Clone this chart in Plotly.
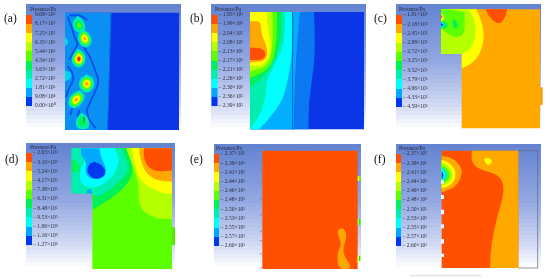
import plotly.graph_objects as go

BANDS = ["#ff4f00", "#ffa800", "#ffff00", "#b4ff00", "#5cff00", "#00f05a", "#00eeb0", "#00ffff", "#00a8ff", "#0038f0"]
RED, ORG, YEL, LIM, GRN, GR2, TEA, CYN, LBL, BLU = BANDS
DOM_BLUE = "#0a36e8"
DOM_LIGHT = "#0a90f2"

LABELS_A = ["9.08×10⁵", "8.17×10⁵", "7.25×10⁵", "6.35×10⁵", "5.44×10⁵", "4.54×10⁵", "3.63×10⁵", "2.72×10⁵", "1.81×10⁵", "9.08×10⁴", "0.00×10⁰"]
LABELS_B = ["1.95×10⁵", "1.99×10⁵", "2.04×10⁵", "2.08×10⁵", "2.13×10⁵", "2.17×10⁵", "2.21×10⁵", "2.26×10⁵", "2.30×10⁵", "2.36×10⁵", "2.39×10⁵"]
LABELS_C = ["1.91×10⁵", "2.18×10⁵", "2.45×10⁵", "2.98×10⁵", "2.72×10⁵", "3.25×10⁵", "3.52×10⁵", "3.79×10⁵", "4.06×10⁵", "4.33×10⁵", "4.59×10⁵"]
LABELS_D = ["2.03×10⁵", "3.10×10⁵", "5.24×10⁵", "4.17×10⁵", "7.38×10⁵", "6.31×10⁵", "8.48×10⁵", "9.53×10⁵", "1.06×10⁶", "1.16×10⁶", "1.27×10⁶"]
LABELS_E = ["2.37×10⁵", "2.39×10⁵", "2.41×10⁵", "2.44×10⁵", "2.46×10⁵", "2.48×10⁵", "2.50×10⁵", "2.53×10⁵", "2.55×10⁵", "2.57×10⁵", "2.60×10⁵"]
LABELS_F = LABELS_E

FONT = "Liberation Serif"
fig = go.Figure()


def smooth(pts, n=2):
    pts = list(pts)
    for _ in range(n):
        out = [pts[0]]
        for a, b in zip(pts[:-1], pts[1:]):
            out.append((0.75 * a[0] + 0.25 * b[0], 0.75 * a[1] + 0.25 * b[1]))
            out.append((0.25 * a[0] + 0.75 * b[0], 0.25 * a[1] + 0.75 * b[1]))
        out.append(pts[-1])
        pts = out
    return pts


def poly(pts, color):
    fig.add_trace(go.Scatter(x=[p[0] for p in pts], y=[p[1] for p in pts], mode="none", fill="toself",
                             fillcolor=color, hoverinfo="skip", showlegend=False))


def region(off, color, curve, corners=()):
    pts = smooth(curve) + list(corners)
    poly([(p[0] / 3 + off[0], p[1] / 3 + off[1]) for p in pts], color)


def rect(off, x0, y0, x1, y1, color):
    region(off, color, [(x0, y0), (x1, y0)], [(x1, y1), (x0, y1)])


def blob(off, outline, scales, colors):
    cx = sum(p[0] for p in outline) / len(outline)
    cy = sum(p[1] for p in outline) / len(outline)
    for s, c in zip(scales, colors):
        pts = [(cx + (p[0] - cx) * s, cy + (p[1] - cy) * s) for p in outline]
        region(off, c, pts + [pts[0]])


def strokes(off, lines, color, width):
    for ln in lines:
        pts = smooth(ln)
        fig.add_trace(go.Scatter(x=[p[0] / 3 + off[0] for p in pts], y=[p[1] / 3 + off[1] for p in pts],
                                 mode="lines", line=dict(color=color, width=width), hoverinfo="skip", showlegend=False))


def markers(off, pts, symbol, size, color="#303030"):
    fig.add_trace(go.Scatter(x=[p[0] / 3 + off[0] for p in pts], y=[p[1] / 3 + off[1] for p in pts], mode="markers",
                             marker=dict(symbol=symbol, size=size, color="rgba(0,0,0,0)", line=dict(color=color, width=0.7)),
                             hoverinfo="skip", showlegend=False))


def background(x0, x1, y0, y1):
    n = 32
    edges = [y0 + (y1 - y0) * i / n for i in range(n + 1)]
    fig.add_trace(go.Heatmap(x=[x0, x1], y=edges, z=[[i / (n - 1)] for i in range(n)],
                             colorscale=[[0, "#6484d2"], [.45, "#93a8e2"], [.8, "#d0d9f3"], [1, "#ffffff"]],
                             zmin=0, zmax=1, showscale=False, hoverinfo="skip"))


def legend(x0, x1, y0, y1, labels, letter, lx, ly, title_x, dash):
    n = len(labels)
    ys = [y0 + (y1 - y0) * i / (n - 1) for i in range(n)]
    scale = []
    for i, c in enumerate(BANDS):
        scale += [[i / 10, c], [(i + 1) / 10, c]]
    fig.add_trace(go.Heatmap(x=[x0, x1], y=ys, z=[[i + .5] for i in range(10)], zmin=0, zmax=10, colorscale=scale,
                             showscale=False, hoverinfo="skip"))
    txt = [("– " if dash else "") + t for t in labels]
    fig.add_trace(go.Scatter(x=[x1 + (1.5 if dash else 3.5)] * n, y=ys, mode="text", text=txt, textposition="middle right",
                             textfont=dict(family=FONT, size=5.6, color="#2a2a3a"), hoverinfo="skip", showlegend=False))
    fig.add_annotation(x=title_x, y=y0 - 6.5, text="Pressure/Pa", showarrow=False, xanchor="left", yanchor="middle",
                       font=dict(family=FONT, size=5.6, color="#2a2a3a"))
    fig.add_annotation(x=lx, y=ly, text=letter, showarrow=False, xanchor="left", yanchor="middle",
                       font=dict(family=FONT, size=11.5, color="#111111"))


# ---------- panel (a)
OA = (0, 0)
background(26, 181, 4, 131)
legend(26, 31.5, 15, 106, LABELS_A, "(a)", 2, 18, 27.5, False)
rect(OA, 195, 38, 537, 390, DOM_BLUE)
region(OA, DOM_LIGHT, [(332, 38), (322, 390)], [(195, 390), (195, 38)])
strokes(OA, [[(333, 38), (323, 390)]], "#0a70ea", 1)
A_STREAKS = [
    [(208, 46), (240, 44), (262, 60)],
    [(203, 50), (213, 72), (220, 105), (236, 132), (222, 152), (208, 178)],
    [(250, 138), (268, 165), (285, 208), (297, 240), (290, 266), (276, 296), (258, 330), (268, 362), (288, 385)],
    [(203, 198), (216, 214), (222, 240), (205, 266), (198, 292)],
    [(218, 318), (212, 345)],
    [(238, 330), (232, 352)],
]
strokes(OA, A_STREAKS, "#0a4cec", 1.7)
A_B1 = [(232, 48), (250, 60), (258, 85), (247, 102), (226, 94), (214, 70)]
A_B2 = [(245, 86), (267, 98), (278, 122), (264, 145), (241, 137), (231, 108)]
A_B3 = [(232, 146), (252, 156), (258, 180), (245, 204), (223, 200), (212, 175)]
A_B4 = [(258, 223), (280, 233), (285, 258), (264, 281), (240, 270), (235, 242)]
A_B5 = [(240, 270), (258, 288), (242, 317), (216, 328), (202, 308), (213, 283)]
A_B6 = [(245, 338), (266, 353), (268, 388), (230, 388), (226, 358)]
blob(OA, A_B1, [1, .62, .34], [TEA, GR2, GRN])
blob(OA, A_B2, [1, .7, .46, .22], [TEA, GRN, YEL, ORG])
blob(OA, A_B3, [1, .74, .54, .36, .2], [TEA, GRN, YEL, ORG, "#f01000"])
blob(OA, A_B4, [1, .7, .46, .24], [TEA, GRN, YEL, ORG])
blob(OA, A_B5, [1, .72, .48, .24], [TEA, GRN, YEL, ORG])
blob(OA, A_B6, [1, .6], [TEA, GR2])
region(OA, "#00d8f0", [(195, 112), (204, 120), (204, 132), (195, 138)])
region(OA, "#00d8f0", [(195, 212), (212, 216), (215, 230), (205, 240), (195, 244)])
markers(OA, [(258, 120)], "square-open", 6)
strokes(OA, [[(252, 350), (252, 368)]], "#205030", 0.7)
markers(OA, [(493, 32)], "square-open", 3, "#555555")

# ---------- panel (b)
OB = (185, 0)
background(211, 366, 4, 131)
legend(211.5, 217, 15, 106, LABELS_B, "(b)", 188, 18, 212.5, True)
rect(OB, 195, 36, 537, 388, DOM_BLUE)
region(OB, "#0a78f0", [(387, 36), (390, 120), (388, 190), (372, 300), (370, 388)], [(195, 388), (195, 36)])
region(OB, "#00b0ff", [(344, 36), (338, 110), (332, 190), (328, 290), (326, 388)], [(195, 388), (195, 36)])
region(OB, CYN, [(322, 36), (322, 120), (318, 190), (298, 290), (262, 345), (222, 388)], [(195, 388), (195, 36)])
region(OB, TEA, [(300, 36), (298, 130), (272, 190), (246, 235), (242, 290), (228, 340), (195, 388)], [(195, 36)])
region(OB, GR2, [(292, 36), (288, 130), (264, 190), (242, 225), (195, 262)], [(195, 36)])
region(OB, GRN, [(276, 36), (275, 130), (258, 205), (195, 235)], [(195, 36)])
region(OB, LIM, [(262, 36), (264, 130), (252, 197), (195, 215)], [(195, 36)])
region(OB, YEL, [(245, 36), (250, 90), (260, 150), (238, 197), (195, 197)], [(195, 36)])
region(OB, ORG, [(195, 63), (228, 64), (228, 100), (248, 145), (244, 182), (195, 188)])
region(OB, RED, [(195, 143), (228, 143), (244, 160), (234, 180), (195, 180)])
strokes(OB, [[(323, 36), (323, 388)]], "#0a60c8", 1)
markers(OB, [(236, 72), (236, 177), (236, 306)], "circle-open", 4)
markers(OB, [(261, 118), (261, 246), (261, 354)], "square-open", 6)
markers(OB, [(491, 29)], "line-ew-open", 3, "#555555")

# ---------- panel (c)
OC = (365, 0)
background(396, 541, 4, 131)
legend(396, 401.5, 15, 107, LABELS_C, "(c)", 372, 18, 397, True)
rect(OC, 228, 28, 290, 162, LIM)
rect(OC, 290, 28, 525, 385, ORG)
rect(OC, 525, 262, 533, 315, "#f5a000")
region(OC, RED, [(362, 28), (372, 50), (392, 68), (408, 70), (422, 48), (426, 28)])
region(OC, YEL, [(335, 28), (352, 70), (358, 118), (342, 168), (318, 192), (290, 205)], [(290, 162), (228, 162), (228, 28)])
region(OC, LIM, [(310, 28), (330, 60), (332, 110), (318, 145), (292, 162)], [(228, 162), (228, 28)])
region(OC, GRN, [(298, 36), (300, 100), (275, 113), (255, 106), (228, 86)], [(228, 28), (245, 28)])
region(OC, GR2, [(264, 58), (276, 62), (278, 84), (268, 86), (262, 72), (264, 58)])
region(OC, GR2, [(228, 64), (244, 66), (250, 78), (240, 86), (228, 84)])
region(OC, YEL, [(228, 40), (236, 48), (236, 60), (228, 64)])
region(OC, RED, [(228, 45), (233, 50), (228, 57)])
region(OC, CYN, [(228, 66), (242, 72), (232, 80), (228, 80)])
region(OC, BLU, [(228, 70), (238, 74), (228, 78)])
markers(OC, [(396, 340)], "square-open", 4)
markers(OC, [(223, 97)], "square-open", 5, "#556")
markers(OC, [(223, 72)], "line-ns-open", 3, "#556")

# ---------- panel (d)
OD = (0, 139)
background(26, 175, 143, 270)
legend(26, 31.5, 153, 245, LABELS_D, "(d)", 3, 159, 27.5, True)
rect(OD, 215, 28, 277, 163, TEA)
rect(OD, 277, 28, 516, 390, GRN)
rect(OD, 516, 265, 525, 318, "#58e800")
region(OD, LIM, [(378, 28), (400, 85), (415, 130), (415, 180), (425, 215), (470, 240), (516, 240)], [(516, 28)])
region(OD, YEL, [(395, 28), (410, 100), (430, 135), (480, 160), (516, 165)], [(516, 28)])
region(OD, ORG, [(418, 28), (420, 55), (435, 100), (470, 125), (516, 128)], [(516, 28)])
region(OD, RED, [(432, 28), (432, 60), (445, 85), (470, 98), (516, 95)], [(516, 28)])
region(OD, GR2, [(378, 28), (405, 100), (362, 160), (278, 212)], [(277, 163), (215, 163), (215, 28)])
region(OD, TEA, [(365, 28), (392, 95), (340, 145), (292, 176), (277, 163)], [(215, 163), (215, 28)])
region(OD, GR2, [(215, 60), (232, 66), (242, 98), (215, 100)])
region(OD, CYN, [(242, 28), (258, 62), (240, 90), (240, 135), (280, 150), (330, 125), (360, 70), (345, 28)])
region(OD, LBL, [(243, 28), (243, 50), (260, 70), (255, 100), (270, 120), (300, 120), (322, 95), (305, 60), (298, 28)])
region(OD, BLU, [(283, 68), (307, 78), (319, 100), (307, 117), (280, 120), (260, 100), (266, 76), (283, 68)])
region(OD, LBL, [(260, 163), (262, 152), (270, 149), (277, 158), (277, 163)])
markers(OD, [(210, 99)], "square-open", 5, "#445")
markers(OD, [(386, 345)], "square-open", 4, "#356")

# ---------- panel (e)
OE = (185, 139)
background(214, 361, 144, 270)
legend(214, 219, 154, 246, LABELS_E, "(e)", 188, 159, 214, True)
rect(OE, 232, 35, 518, 390, RED)
E_PATCH = [(460, 272), (476, 266), (486, 292), (475, 325), (476, 348), (495, 376), (495, 390), (460, 390), (456, 345), (470, 315), (458, 285), (460, 272)]
region(OE, ORG, E_PATCH)
rect(OE, 518, 112, 526, 126, YEL)
rect(OE, 522, 112, 526, 126, GRN)
rect(OE, 518, 240, 526, 258, LIM)
rect(OE, 522, 240, 526, 258, GR2)
rect(OE, 518, 350, 526, 366, YEL)
rect(OE, 522, 350, 526, 366, GR2)
rect(OE, 514, 362, 518, 372, ORG)
E_TICKS = [[(224, 75), (232, 75)], [(224, 90), (232, 90)], [(224, 135), (232, 135)], [(224, 180), (232, 180)], [(224, 228), (232, 228)], [(224, 278), (232, 278)], [(224, 305), (232, 305)], [(224, 345), (232, 345)], [(224, 386), (232, 386)], [(352, 28), (360, 28)]]
strokes(OE, E_TICKS, "#777788", 0.6)

# ---------- panel (f)
OF = (365, 139)
background(396, 541, 144, 270)
legend(396, 401, 154, 246, LABELS_F, "(f)", 372, 159, 397, True)
rect(OF, 230, 35, 460, 387, RED)
region(OF, ORG, [(320, 35), (320, 70), (340, 90), (395, 105), (415, 130), (415, 170), (395, 240), (378, 320), (375, 387)], [(460, 387), (460, 35)])
region(OF, YEL, [(356, 60), (370, 55), (384, 68), (368, 82), (356, 60)])
F_RINGS = [(ORG, [(230, 50), (265, 58), (290, 85), (290, 115), (270, 145), (230, 160)]),
           (YEL, [(230, 62), (255, 72), (272, 95), (270, 122), (252, 142), (230, 148)]),
           (LIM, [(230, 70), (250, 80), (264, 100), (262, 122), (248, 135), (230, 140)]),
           (GRN, [(230, 76), (245, 86), (256, 102), (254, 120), (243, 130), (230, 134)]),
           (TEA, [(230, 84), (242, 92), (248, 105), (246, 118), (238, 125), (230, 128)]),
           (CYN, [(230, 90), (240, 100), (242, 110), (238, 118), (230, 122)]),
           (BLU, [(230, 96), (236, 106), (234, 116), (230, 120)])]
for col, curve in F_RINGS:
    region(OF, col, curve)
F_NOTCHES = [(124, 134), (168, 180), (212, 226), (256, 268), (300, 314), (344, 354)]
for y0, y1 in F_NOTCHES:
    rect(OF, 228, y0, 237, y1, "#f4f5fb")
F_FRAME = [[(460, 35), (518, 35)], [(518, 35), (518, 387)], [(460, 387), (518, 387)]]
strokes(OF, F_FRAME, "#667", 0.7)
strokes(OF, [[(135, 410), (350, 410)]], "#dcdcdc", 1)
markers(OF, [(522, 118), (522, 245), (522, 352)], "line-ns-open", 5, "#667")

fig.update_xaxes(range=[0, 550], visible=False, fixedrange=True)
fig.update_yaxes(range=[279, 0], visible=False, fixedrange=True)
fig.update_layout(width=550, height=279, margin=dict(l=0, r=0, t=0, b=0), plot_bgcolor="white", paper_bgcolor="white",
                  showlegend=False)
fig.write_html("out.html", config={"displayModeBar": False},
               post_script="document.body.style.margin='0';document.body.style.filter='blur(0.35px)';")
